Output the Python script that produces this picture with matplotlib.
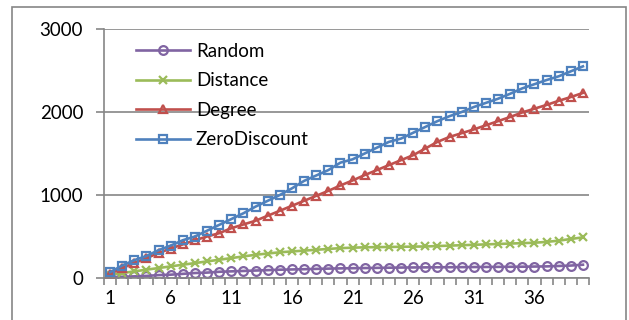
import numpy as np
import matplotlib.pyplot as plt
from matplotlib.patches import Rectangle

x = np.arange(1, 41)

random_ = [10, 15, 20, 25, 35, 40, 50, 60, 65, 75, 80, 85, 90, 95, 100, 103, 106, 110, 113, 116,
           118, 120, 122, 124, 126, 127, 128, 129, 130, 131, 132, 133, 134, 135, 136, 138, 140, 145, 150, 160]
distance = [40, 60, 80, 100, 120, 140, 160, 180, 200, 220, 240, 260, 280, 295, 310, 320, 330, 340, 350, 360,
            365, 370, 372, 374, 376, 378, 380, 385, 390, 395, 400, 405, 410, 415, 420, 425, 435, 450, 470, 490]
degree = [50, 120, 180, 240, 300, 355, 405, 455, 500, 540, 600, 645, 690, 750, 810, 870, 930, 990, 1050, 1115,
          1175, 1240, 1300, 1360, 1420, 1480, 1560, 1640, 1700, 1745, 1790, 1840, 1890, 1940, 1995, 2040, 2085, 2135, 2180, 2230]
zerodiscount = [70, 150, 215, 265, 335, 390, 455, 500, 570, 640, 710, 780, 860, 930, 1000, 1080, 1170, 1235, 1300, 1390,
                1430, 1500, 1570, 1640, 1680, 1750, 1820, 1890, 1950, 2000, 2060, 2110, 2160, 2220, 2285, 2335, 2385, 2430, 2490, 2550]

xlabels = [1, 6, 11, 16, 21, 26, 31, 36]
yticks = [0, 1000, 2000, 3000]

plt.rcParams['font.family'] = ['Lato', 'DejaVu Sans']
grey = '#868686'

fig = plt.figure(figsize=(6.29, 3.2), dpi=100)
ax = fig.add_axes([104/629, 1-278/320, (589-104)/629, (278-29)/320])

# chart border, bottom is cut off in the original
fig.patches.append(Rectangle((12/629, -0.1), (626-12)/629, 1.1-7/320, transform=fig.transFigure,
                             fill=False, edgecolor=grey, lw=1.2))

kw = dict(lw=1.9, ms=6.3, mew=1.6)
ax.plot(x, random_, color='#8064A2', marker='o', mfc='none', label='Random', **kw)
ax.plot(x, distance, color='#9BBB59', marker='x', label='Distance', **kw)
ax.plot(x, degree, color='#C0504D', marker='^', mfc='none', label='Degree', **kw)
ax.plot(x, zerodiscount, color='#4F81BD', marker='s', mfc='none', label='ZeroDiscount', **kw)

ax.set_xlim(0.5, 40.5)
ax.set_ylim(0, 3000)
ax.set_yticks(yticks)
ax.set_xticks(xlabels)
ax.set_xticklabels([str(v) for v in xlabels])
ax.set_xticks(np.arange(0.5, 41, 1), minor=True)
ax.tick_params(axis='x', which='major', length=0, pad=9, labelsize=13.5)
ax.tick_params(axis='x', which='minor', length=5, color=grey, width=1.2)
ax.tick_params(axis='y', length=6, color=grey, width=1.2, pad=9, labelsize=13.5)
ax.grid(axis='y', color=grey, lw=1.2)
ax.set_axisbelow(True)
for s in ['top', 'right']:
    ax.spines[s].set_visible(False)
for s in ['left', 'bottom']:
    ax.spines[s].set_color(grey)
    ax.spines[s].set_linewidth(1.2)

ax.legend(loc='upper left', bbox_to_anchor=(0.05, 0.975), frameon=False, fontsize=13.5,
          handlelength=2.9, labelspacing=0.67, handletextpad=0.3, borderaxespad=0)

fig.savefig('out.png', dpi=100)
